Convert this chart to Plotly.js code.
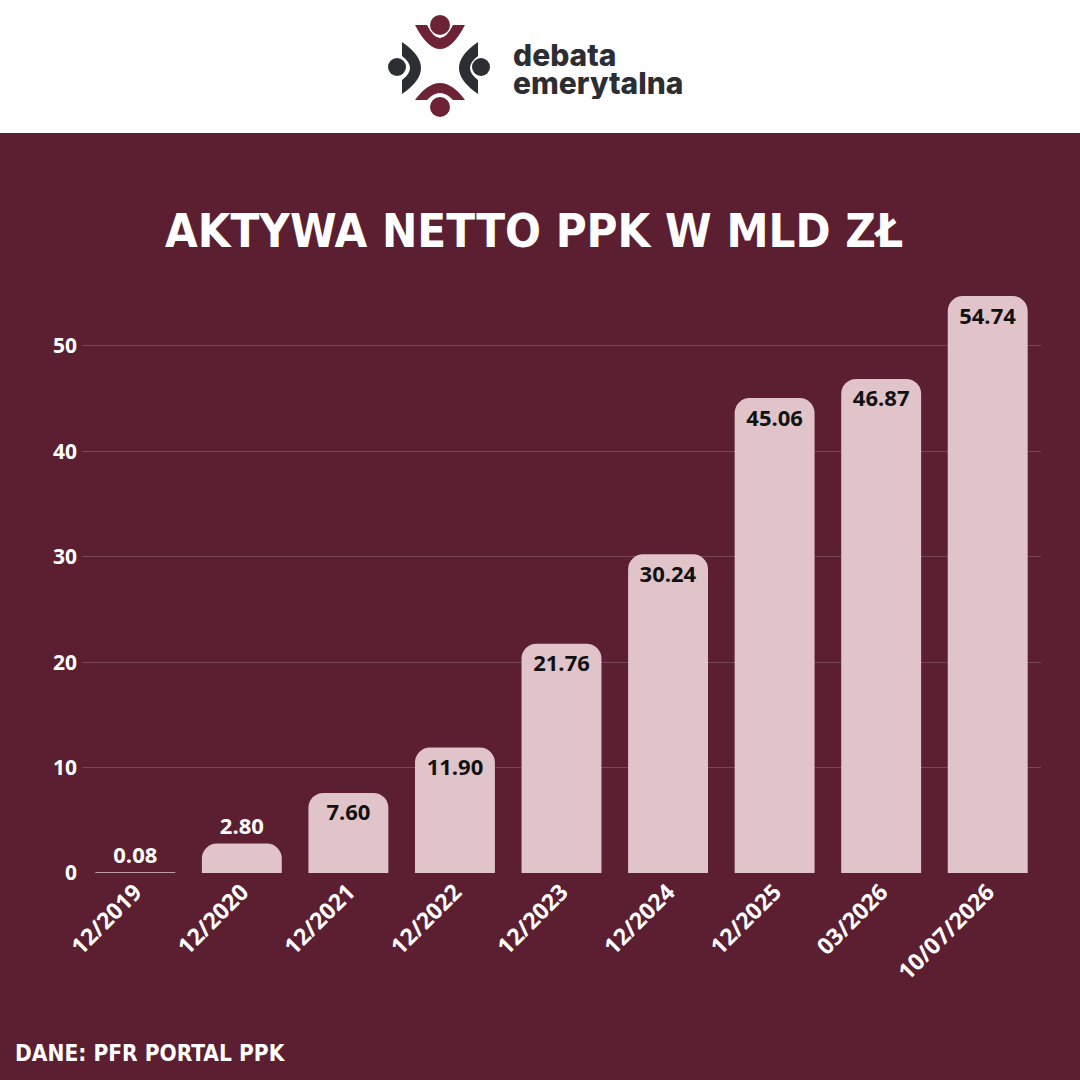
<!DOCTYPE html>
<html><head><meta charset="utf-8">
<script src="https://cdn.plot.ly/plotly-3.0.1.min.js"></script>
<style>html,body{margin:0;padding:0;background:#5B1F31;}#chart{width:1080px;height:1080px;}</style>
</head><body><div id="chart"></div>
<script>
const categories = ["12/2019","12/2020","12/2021","12/2022","12/2023","12/2024","12/2025","03/2026","10/07/2026"];
const values = [0.08, 2.80, 7.60, 11.90, 21.76, 30.24, 45.06, 46.87, 54.74];
const valueLabels = ["0.08","2.80","7.60","11.90","21.76","30.24","45.06","46.87","54.74"];
const yTicks = [0, 10, 20, 30, 40, 50];
const titleText = "AKTYWA NETTO PPK W MLD ZŁ";
const sourceText = "DANE: PFR PORTAL PPK";

const W = 1080, H = 1080;
const M = {l: 82, r: 39, t: 288, b: 207};
const pw = W - M.l - M.r, ph = H - M.t - M.b;
const px = x => (x - M.l) / pw;
const py = y => (H - M.b - y) / ph;

const BG = "#5B1F31", BAR = "#E1C3CA", MAROON = "#6E2235", DARK = "#2D2E33";
const TITLEFONT = "DejaVu Sans Condensed, DejaVu Sans";

const outside = values.map(v => v < 5);
const trace = {
  type: "bar", x: categories, y: values,
  marker: {color: BAR},
  text: valueLabels,
  textposition: outside.map(o => o ? "outside" : "inside"),
  insidetextanchor: "end",
  textangle: 0,
  constraintext: "none",
  cliponaxis: false,
  textfont: {family: "Open Sans", size: 22, weight: 700, color: outside.map(o => o ? "#FFFFFF" : "#111111")},
  hoverinfo: "none"
};

function P(pts){
  return pts.map(p => p[0] + " " + p.slice(1).reduce((a,v,i)=>a + (i%2===0? px(v):py(v)) + (i%2===0?",":" "), "")).join(" ");
}
function circle(cx, cy, r, color){
  return {type:"circle", xref:"paper", yref:"paper", x0:px(cx-r), x1:px(cx+r), y0:py(cy+r), y1:py(cy-r), fillcolor:color, line:{width:0}};
}
function shp(pts, color){ return {type:"path", xref:"paper", yref:"paper", path:P(pts)+" Z", fillcolor:color, line:{width:0}, layer:"above"}; }

const shapes = [
  {type:"rect", xref:"paper", yref:"paper", x0:px(0), x1:px(1080), y0:py(133), y1:py(0), fillcolor:"#FFFFFF", line:{width:0}, layer:"below"},
  // top figure
  circle(440, 25, 10, MAROON),
  shp([["M",415,25],["L",427,25],["Q",440,51,453,25],["L",465,25],["Q",440,73,415,25]], MAROON),
  // bottom figure
  circle(440, 107, 10, MAROON),
  shp([["M",415,100],["Q",440,66,465,100],["L",453,100],["Q",440,86,427,100]], MAROON),
  // left figure
  circle(397, 67, 9, DARK),
  shp([["M",402,42],["Q",440,68,402,94],["L",402,80],["Q",418,68,402,56]], DARK),
  // right figure
  circle(481, 67, 9, DARK),
  shp([["M",478,42],["Q",440,68,478,94],["L",478,80],["Q",462,68,478,56]], DARK)
];

const annotations = [
  {xref:"paper", yref:"paper", x:px(511), y:py(55), xanchor:"left", yanchor:"middle", showarrow:false, align:"left",
   height:24, valign:"middle",
   text:"debata", font:{family:"Inter", size:30, weight:800, color:DARK}},
  {xref:"paper", yref:"paper", x:px(511), y:py(83), xanchor:"left", yanchor:"middle", showarrow:false, align:"left",
   height:32, valign:"middle",
   text:"emerytalna", font:{family:"Inter", size:30, weight:800, color:DARK}},
  {xref:"paper", yref:"paper", x:px(534), y:py(231), xanchor:"center", yanchor:"middle", showarrow:false,
   text:titleText, font:{family:TITLEFONT, size:47, weight:700, color:"#FFFFFF"}},
  {xref:"paper", yref:"paper", x:px(13), y:py(1053), xanchor:"left", yanchor:"middle", showarrow:false,
   text:sourceText, font:{family:TITLEFONT, size:22.5, weight:700, color:"#FFFFFF"}}
];

const layout = {
  width: W, height: H,
  margin: M,
  paper_bgcolor: BG, plot_bgcolor: BG,
  showlegend: false,
  bargap: 0.25,
  barcornerradius: 15,
  xaxis: {type:"category", tickangle:-45, showgrid:false, showline:false, zeroline:false, ticks:"",
    tickfont:{family:"Open Sans", size:23, weight:700, color:"#FFFFFF"}},
  yaxis: {range:[0, 55.5], tickvals:yTicks, ticktext:yTicks.map(String), showgrid:true,
    gridcolor:"rgba(255,255,255,0.18)", gridwidth:1, zeroline:false,
    ticks:"", ticklabelstandoff:4,
    tickfont:{family:"Open Sans", size:21, weight:700, color:"#FFFFFF"}},
  shapes: shapes,
  annotations: annotations
};

Plotly.newPlot("chart", [trace], layout, {displayModeBar:false, staticPlot:true});
</script></body></html>
